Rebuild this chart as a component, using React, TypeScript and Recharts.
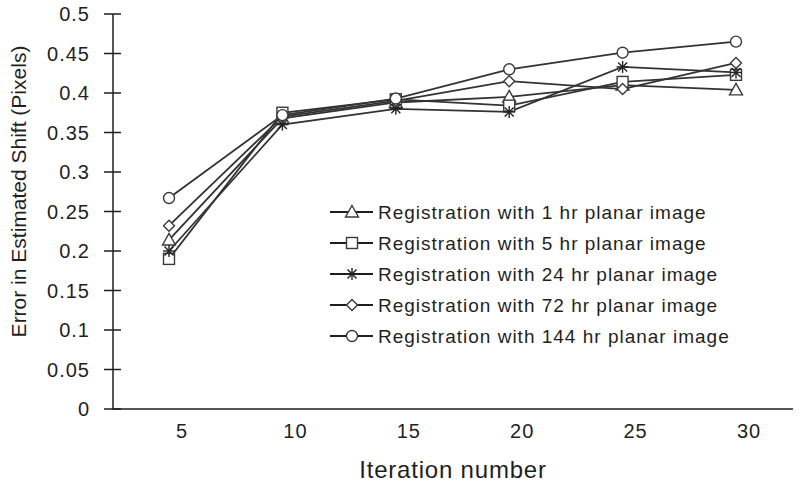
import { LineChart, Line, XAxis, YAxis, Legend } from "recharts"

const ITERATIONS = ["5", "10", "15", "20", "25", "30"]
const HR_1 = [0.214, 0.368, 0.388, 0.395, 0.41, 0.404]
const HR_5 = [0.19, 0.375, 0.392, 0.384, 0.414, 0.423]
const HR_24 = [0.2, 0.36, 0.38, 0.376, 0.433, 0.426]
const HR_72 = [0.232, 0.37, 0.39, 0.415, 0.405, 0.438]
const HR_144 = [0.267, 0.372, 0.393, 0.43, 0.451, 0.465]
const Y_TICKS = [0, 0.05, 0.1, 0.15, 0.2, 0.25, 0.3, 0.35, 0.4, 0.45, 0.5]

type Shape = "triangle" | "square" | "star" | "diamond" | "circle"

const SERIES: { key: string; name: string; shape: Shape }[] = [
  { key: "hr1", name: "Registration with 1 hr planar image", shape: "triangle" },
  { key: "hr5", name: "Registration with 5 hr planar image", shape: "square" },
  { key: "hr24", name: "Registration with 24 hr planar image", shape: "star" },
  { key: "hr72", name: "Registration with 72 hr planar image", shape: "diamond" },
  { key: "hr144", name: "Registration with 144 hr planar image", shape: "circle" },
]

const data = ITERATIONS.map((it, i) => ({
  iteration: it,
  hr1: HR_1[i],
  hr5: HR_5[i],
  hr24: HR_24[i],
  hr72: HR_72[i],
  hr144: HR_144[i],
}))

const INK = "#1f1f1f"
const FONT = "'Liberation Sans', Arial, sans-serif"

function Marker({ shape, cx, cy }: { shape: Shape; cx: number; cy: number }) {
  const common = { fill: "#fff", stroke: "#3a3a3a", strokeWidth: 1.4 }
  if (shape === "triangle")
    return <path d={`M${cx},${cy - 6.5} L${cx + 6.5},${cy + 5} L${cx - 6.5},${cy + 5} Z`} {...common} />
  if (shape === "square") return <rect x={cx - 5.5} y={cy - 5.5} width={11} height={11} {...common} />
  if (shape === "diamond")
    return <path d={`M${cx},${cy - 5.5} L${cx + 5.5},${cy} L${cx},${cy + 5.5} L${cx - 5.5},${cy} Z`} {...common} />
  if (shape === "circle") return <circle cx={cx} cy={cy} r={5.5} {...common} />
  return (
    <g stroke="#222" strokeWidth={1.4}>
      <line x1={cx - 6} y1={cy} x2={cx + 6} y2={cy} />
      <line x1={cx} y1={cy - 6} x2={cx} y2={cy + 6} />
      <line x1={cx - 4.5} y1={cy - 4.5} x2={cx + 4.5} y2={cy + 4.5} />
      <line x1={cx - 4.5} y1={cy + 4.5} x2={cx + 4.5} y2={cy - 4.5} />
    </g>
  )
}

function YTick({ x, y, payload }: any) {
  return (
    <g>
      <line x1={x - 9} y1={y} x2={x + 8} y2={y} stroke={INK} strokeWidth={1.5} />
      <text
        x={x - 23}
        y={y}
        textAnchor="end"
        dominantBaseline="central"
        fontSize={20}
        letterSpacing={1}
        fill={INK}
        fontFamily={FONT}
      >
        {String(Number(Number(payload.value).toFixed(2)))}
      </text>
    </g>
  )
}

function XTick({ x, y, payload }: any) {
  return (
    <text
      x={x + 13}
      y={y + 22}
      textAnchor="middle"
      dominantBaseline="central"
      fontSize={20}
      letterSpacing={1}
      fill={INK}
      fontFamily={FONT}
    >
      {payload.value}
    </text>
  )
}

function LegendBox() {
  return (
    <svg width={440} height={160} style={{ display: "block" }}>
      {SERIES.map((s, i) => {
        const cy = 12 + i * 31
        return (
          <g key={s.key}>
            <line x1={2} y1={cy} x2={45} y2={cy} stroke={INK} strokeWidth={2} />
            <Marker shape={s.shape} cx={24} cy={cy} />
            <text
              x={50}
              y={cy}
              dominantBaseline="central"
              fontSize={19}
              letterSpacing={1}
              fill={INK}
              fontFamily={FONT}
            >
              {s.name}
            </text>
          </g>
        )
      })}
    </svg>
  )
}

export default function App() {
  return (
    <div style={{ position: "absolute", left: 0, top: 0, background: "#fff" }}>
      <LineChart width={800} height={489} data={data} margin={{ top: 14, right: 7, left: 0, bottom: 0 }}>
        <XAxis
          dataKey="iteration"
          height={80}
          padding={{ left: 56, right: 57 }}
          tickSize={0}
          tickMargin={0}
          tick={<XTick />}
          axisLine={{ stroke: INK, strokeWidth: 1.5 }}
          label={{
            content: ({ viewBox }: any) => (
              <text
                x={viewBox.x + viewBox.width / 2}
                y={viewBox.y + 60}
                textAnchor="middle"
                dominantBaseline="central"
                fontSize={24}
                letterSpacing={0.8}
                fill={INK}
                fontFamily={FONT}
              >
                Iteration number
              </text>
            ),
          }}
        />
        <XAxis xAxisId="top" orientation="top" height={0} tick={false} tickLine={false} axisLine={{ stroke: INK, strokeWidth: 1.5 }} />
        <YAxis
          width={113}
          domain={[0, 0.5]}
          ticks={Y_TICKS}
          tickSize={0}
          tickMargin={0}
          tick={<YTick />}
          axisLine={{ stroke: INK, strokeWidth: 1.5 }}
          label={{
            content: ({ viewBox }: any) => {
              const cx = 18
              const cy = viewBox.y + viewBox.height / 2 - 20
              return (
                <text
                  x={cx}
                  y={cy}
                  transform={`rotate(-90 ${cx} ${cy})`}
                  textAnchor="middle"
                  dominantBaseline="central"
                  fontSize={21}
                  fill={INK}
                  fontFamily={FONT}
                >
                  Error in Estimated Shift (Pixels)
                </text>
              )
            },
          }}
        />
        <YAxis yAxisId="right" orientation="right" width={0} tick={false} tickLine={false} axisLine={{ stroke: INK, strokeWidth: 1.5 }} />
        <Legend
          layout="horizontal"
          verticalAlign="middle"
          align="center"
          content={() => <LegendBox />}
          wrapperStyle={{ left: 328, top: 200, width: 440, height: 160 }}
        />
        {SERIES.map((s) => (
          <Line
            key={s.key}
            dataKey={s.key}
            name={s.name}
            stroke="#333"
            strokeWidth={1.8}
            isAnimationActive={false}
            dot={(p: any) => <Marker key={`${s.key}-${p.index}`} shape={s.shape} cx={p.cx} cy={p.cy} />}
            activeDot={false}
          />
        ))}
      </LineChart>
    </div>
  )
}
